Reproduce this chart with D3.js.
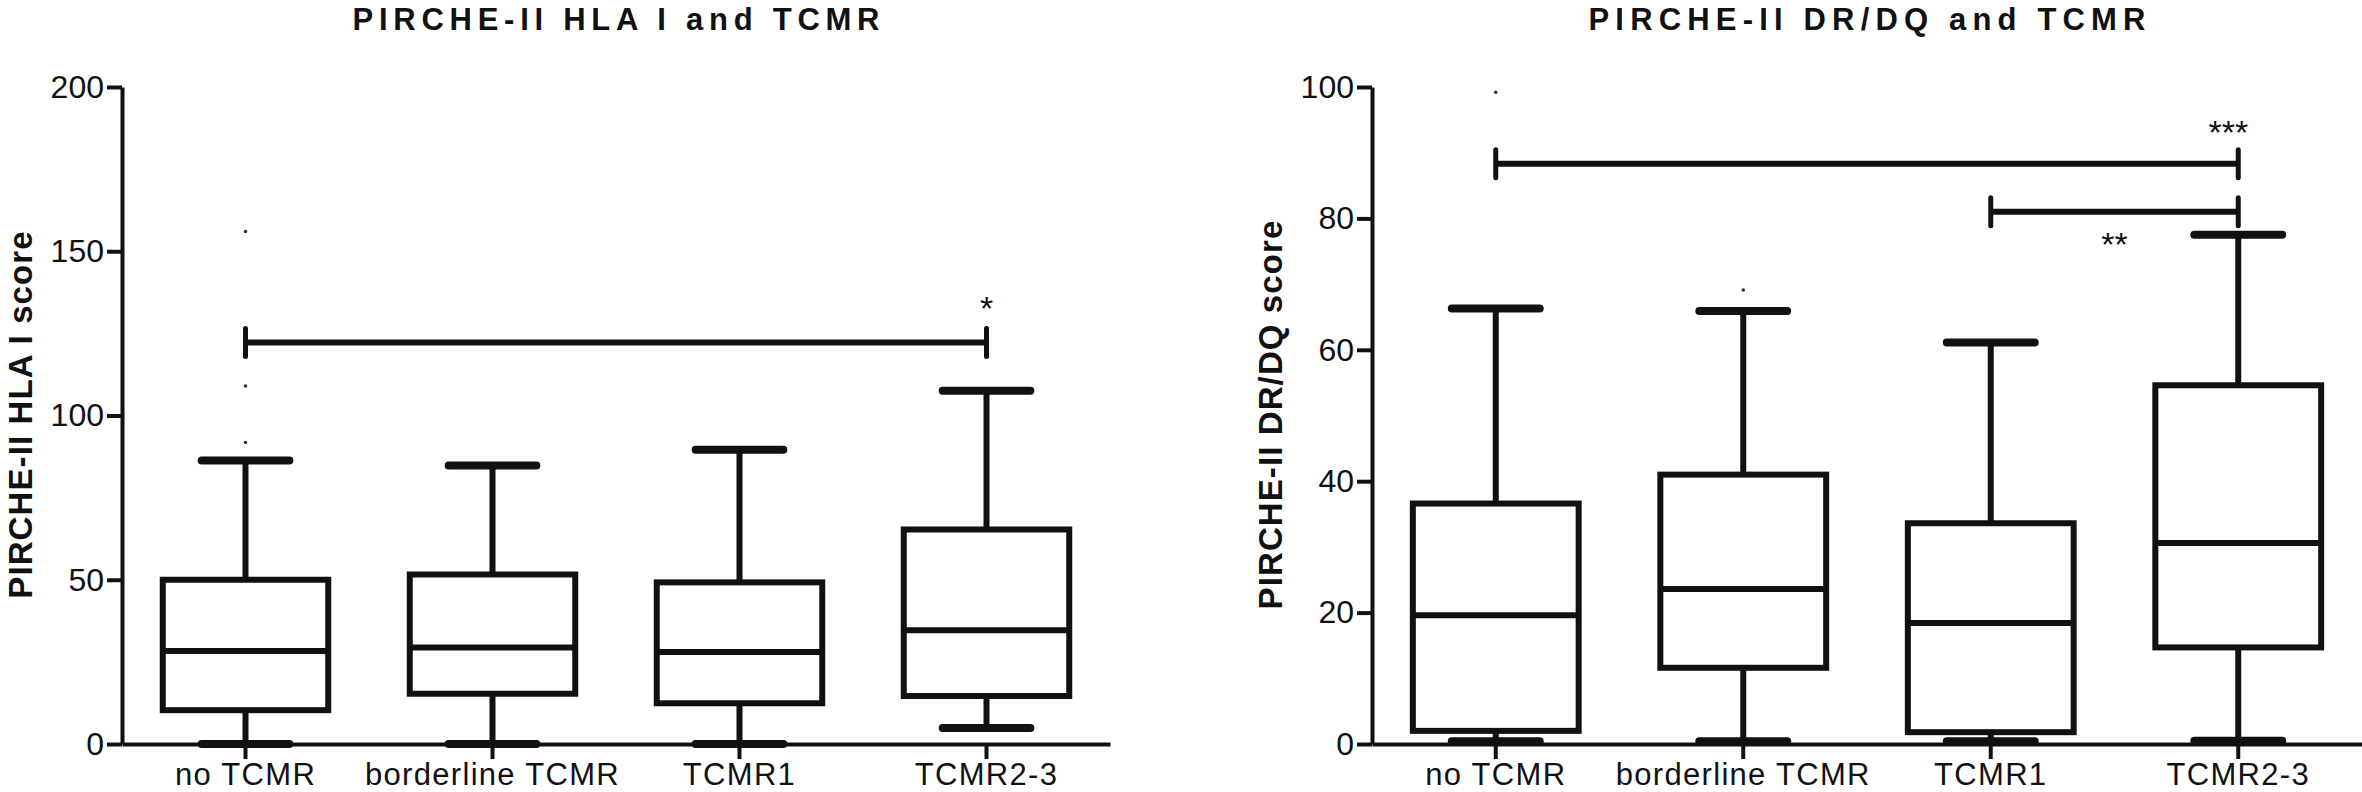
<!DOCTYPE html>
<html>
<head>
<meta charset="utf-8">
<script src="https://cdn.jsdelivr.net/npm/d3@7"></script>
<style>
	body { margin: 0; background: #fff; }
	text { font-family: "Liberation Sans", Arial, sans-serif; fill: #111; }
</style>
</head>
<body>
<svg id="svg" width="2362" height="792"></svg>
<script>
"use strict";

// categories shared by both panels
const categories = ["no TCMR", "borderline TCMR", "TCMR1", "TCMR2-3"];

// PIRCHE-II HLA I score
const hlaMin = [0, 0, 0, 4.9];
const hlaQ1 = [10.3, 15.3, 12.4, 14.6];
const hlaMedian = [28.3, 29.4, 28.0, 34.6];
const hlaQ3 = [50.0, 51.6, 49.2, 65.3];
const hlaMax = [86.3, 84.8, 89.6, 107.5];
const hlaOutliers = [[91.8, 109, 156], [], [], [126.7]];
const hlaTicks = [0, 50, 100, 150, 200];

// PIRCHE-II DR/DQ score
const dqMin = [0.4, 0.4, 0.4, 0.5];
const dqQ1 = [2.0, 11.6, 1.8, 14.7];
const dqMedian = [19.6, 23.6, 18.4, 30.6];
const dqQ3 = [36.6, 41.0, 33.6, 54.6];
const dqMax = [66.3, 65.9, 61.1, 77.5];
const dqOutliers = [[99.2], [69.1], [], []];
const dqTicks = [0, 20, 40, 60, 80, 100];

// significance bars: from/to category index, bar value, label, label position (index) and label value
const hlaSig = [{ from: 0, to: 3, v: 122.2, label: "*", at: 3, lv: 135.5 }];
const dqSig = [
	{ from: 0, to: 3, v: 88.3, label: "***", at: 2.96, lv: 94.5 },
	{ from: 2, to: 3, v: 81.0, label: "**", at: 2.5, lv: 77.5 },
];

const svg = d3.select("#svg");

function drawPanel(params) {
	const g = svg.append("g").attr("class", "panel");

	const x = d3
		.scaleBand()
		.domain(categories)
		.range([params.left, params.right]);
	const y = d3
		.scaleLinear()
		.domain(params.domain)
		.range([params.bottom, params.top]);

	const cx = (i) => x(categories[i]) + x.bandwidth() / 2;
	const boxW = x.bandwidth() * 0.67;
	const capW = boxW * 0.53;

	// axes
	const yAxis = g
		.append("g")
		.attr("transform", `translate(${params.left},0)`)
		.call(
			d3
				.axisLeft(y)
				.tickValues(params.ticks)
				.tickSize(15)
				.tickSizeOuter(0)
				.tickPadding(3)
		);
	const xAxis = g
		.append("g")
		.attr("transform", `translate(0,${params.bottom})`)
		.call(d3.axisBottom(x).tickSize(15).tickSizeOuter(0).tickPadding(4));

	[yAxis, xAxis].forEach((a) => {
		a.select(".domain").attr("stroke", "#111").attr("stroke-width", 4);
		a.selectAll(".tick line").attr("stroke", "#111").attr("stroke-width", 4);
	});
	yAxis.selectAll(".tick text").attr("font-size", "32px").attr("fill", "#111");
	xAxis
		.selectAll(".tick text")
		.attr("font-size", "31px")
		.attr("letter-spacing", "1.3px")
		.attr("fill", "#111");
	yAxis.attr("font-family", null);
	xAxis.attr("font-family", null);

	// boxes
	const stats = categories.map((c, i) => ({
		i: i,
		min: params.min[i],
		q1: params.q1[i],
		med: params.median[i],
		q3: params.q3[i],
		max: params.max[i],
		out: params.outliers[i],
	}));

	const box = g
		.selectAll(".box")
		.data(stats)
		.enter()
		.append("g")
		.attr("class", "box");

	// whiskers
	box
		.append("line")
		.attr("x1", (d) => cx(d.i))
		.attr("x2", (d) => cx(d.i))
		.attr("y1", (d) => y(d.max))
		.attr("y2", (d) => y(d.min))
		.attr("stroke", "#111")
		.attr("stroke-width", 6);

	// whisker caps
	["min", "max"].forEach((k) => {
		box
			.append("line")
			.attr("x1", (d) => cx(d.i) - capW / 2)
			.attr("x2", (d) => cx(d.i) + capW / 2)
			.attr("y1", (d) => y(d[k]))
			.attr("y2", (d) => y(d[k]))
			.attr("stroke", "#111")
			.attr("stroke-width", 8)
			.attr("stroke-linecap", "round");
	});

	box
		.append("rect")
		.attr("x", (d) => cx(d.i) - boxW / 2)
		.attr("width", boxW)
		.attr("y", (d) => y(d.q3))
		.attr("height", (d) => y(d.q1) - y(d.q3))
		.attr("fill", "#fff")
		.attr("stroke", "#111")
		.attr("stroke-width", 6);

	box
		.append("line")
		.attr("x1", (d) => cx(d.i) - boxW / 2)
		.attr("x2", (d) => cx(d.i) + boxW / 2)
		.attr("y1", (d) => y(d.med))
		.attr("y2", (d) => y(d.med))
		.attr("stroke", "#111")
		.attr("stroke-width", 6);

	// outliers are tiny specks in the original
	box
		.selectAll(".outlier")
		.data((d) => d.out.map((v) => ({ i: d.i, v: v })))
		.enter()
		.append("circle")
		.attr("class", "outlier")
		.attr("cx", (d) => cx(d.i))
		.attr("cy", (d) => y(d.v))
		.attr("r", 1.8)
		.attr("fill", "#333");

	// significance bars
	const sig = g
		.selectAll(".sig")
		.data(params.sig)
		.enter()
		.append("g")
		.attr("class", "sig");

	sig
		.append("line")
		.attr("x1", (d) => cx(d.from))
		.attr("x2", (d) => cx(d.to))
		.attr("y1", (d) => y(d.v))
		.attr("y2", (d) => y(d.v))
		.attr("stroke", "#111")
		.attr("stroke-width", 6);
	["from", "to"].forEach((k) => {
		sig
			.append("line")
			.attr("x1", (d) => cx(d[k]))
			.attr("x2", (d) => cx(d[k]))
			.attr("y1", (d) => y(d.v) - 14)
			.attr("y2", (d) => y(d.v) + 14)
			.attr("stroke", "#111")
			.attr("stroke-width", 5)
			.attr("stroke-linecap", "round");
	});
	sig
		.append("text")
		.text((d) => d.label)
		.attr("x", (d) => cx(Math.floor(d.at)) + (d.at % 1) * x.step())
		.attr("y", (d) => y(d.lv))
		.attr("dy", "0.62em")
		.attr("text-anchor", "middle")
		.attr("font-size", "34px")
		.attr("fill", "#333");

	// title
	g.append("text")
		.text(params.title)
		.attr("x", (params.left + params.right) / 2)
		.attr("y", 30)
		.attr("text-anchor", "middle")
		.attr("font-weight", "bold")
		.attr("font-size", "31px")
		.attr("textLength", params.titleLength)
		.attr("lengthAdjust", "spacing");

	// y axis label
	g.append("text")
		.text(params.yLabel)
		.attr(
			"transform",
			`translate(${params.left - 90},${(params.top + params.bottom) / 2 - 1}) rotate(-90)`
		)
		.attr("text-anchor", "middle")
		.attr("font-weight", "bold")
		.attr("font-size", "33px")
		.attr("letter-spacing", "1.1px");
}

drawPanel({
	left: 122,
	right: 1110,
	top: 87,
	bottom: 744,
	domain: [0, 200],
	ticks: hlaTicks,
	min: hlaMin,
	q1: hlaQ1,
	median: hlaMedian,
	q3: hlaQ3,
	max: hlaMax,
	outliers: hlaOutliers,
	sig: hlaSig,
	title: "PIRCHE-II HLA I and TCMR",
	titleLength: 527,
	yLabel: "PIRCHE-II HLA I score",
});

drawPanel({
	left: 1372,
	right: 2362,
	top: 87,
	bottom: 744,
	domain: [0, 100],
	ticks: dqTicks,
	min: dqMin,
	q1: dqQ1,
	median: dqMedian,
	q3: dqQ3,
	max: dqMax,
	outliers: dqOutliers,
	sig: dqSig,
	title: "PIRCHE-II DR/DQ and TCMR",
	titleLength: 557,
	yLabel: "PIRCHE-II DR/DQ score",
});
</script>
</body>
</html>
